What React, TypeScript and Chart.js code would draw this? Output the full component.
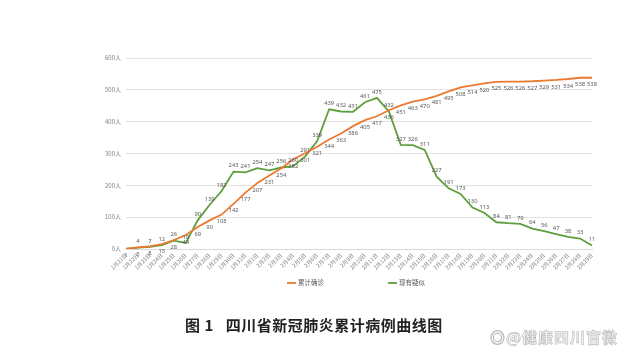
import React, { useEffect, useRef } from "react";
import { Chart, registerables } from "chart.js";

Chart.register(...registerables);

const categories = [
  "1月21日", "1月22日", "1月23日", "1月24日", "1月25日", "1月26日", "1月27日", "1月28日", "1月29日", "1月30日",
  "1月31日", "2月1日", "2月2日", "2月3日", "2月4日", "2月5日", "2月6日", "2月7日", "2月8日", "2月9日",
  "2月10日", "2月11日", "2月12日", "2月13日", "2月14日", "2月15日", "2月16日", "2月17日", "2月18日", "2月19日",
  "2月20日", "2月21日", "2月22日", "2月23日", "2月24日", "2月25日", "2月26日", "2月27日", "2月28日", "2月29日",
];

const confirmed = [
  1, 5, 8, 15, 28, 44, 69, 90, 108, 142,
  177, 207, 231, 254, 282, 301, 321, 344, 363, 386,
  405, 417, 436, 451, 463, 470, 481, 495, 508, 514,
  520, 525, 526, 526, 527, 529, 531, 534, 538, 538,
];

const suspected = [
  0, 4, 7, 12, 26, 19, 90, 139, 182, 243,
  241, 254, 247, 256, 260, 291, 339, 439, 432, 431,
  461, 475, 432, 327, 326, 311, 227, 191, 173, 130,
  113, 84, 81, 79, 64, 56, 47, 38, 33, 11,
];

const seriesNames = ["累计确诊", "现有疑似"];
const yTicks = [0, 100, 200, 300, 400, 500, 600];
const yUnit = "人";

const ORANGE = "#EB7A30";
const GREEN = "#5F9E3C";

const labelPlugin = {
  id: "pointLabels",
  afterDatasetsDraw(chart: any) {
    const ctx = chart.ctx;
    ctx.save();
    ctx.font = "5.8px 'Noto Sans', sans-serif";
    ctx.fillStyle = "#595959";
    ctx.textAlign = "center";
    chart.data.datasets.forEach((ds: any, di: number) => {
      const meta = chart.getDatasetMeta(di);
      const above = di === 1;
      meta.data.forEach((pt: any, i: number) => {
        const v = ds.data[i];
        if (di === 1 && i === 0) return;
        ctx.textBaseline = above ? "bottom" : "top";
        ctx.fillText(String(v), pt.x, pt.y + (above ? -3 : 4));
      });
    });
    ctx.restore();
  },
  afterDraw(chart: any) {
    const ctx = chart.ctx;
    ctx.save();
    const items = [
      { name: seriesNames[0], color: ORANGE, x: 287 },
      { name: seriesNames[1], color: GREEN, x: 388 },
    ];
    const y = 283;
    ctx.font = "6.5px 'Noto Sans CJK SC', sans-serif";
    ctx.textBaseline = "middle";
    ctx.textAlign = "left";
    items.forEach((it) => {
      ctx.strokeStyle = it.color;
      ctx.lineWidth = 1.8;
      ctx.beginPath();
      ctx.moveTo(it.x, y);
      ctx.lineTo(it.x + 9, y);
      ctx.stroke();
      ctx.fillStyle = "#595959";
      ctx.fillText(it.name, it.x + 11, y);
    });
    ctx.restore();
  },
};

export default function App() {
  const canvasRef = useRef<HTMLCanvasElement | null>(null);

  useEffect(() => {
    if (!canvasRef.current) return;
    Chart.defaults.font.family = "'Noto Sans CJK SC', 'Noto Sans', sans-serif";
    const chart = new Chart(canvasRef.current, {
      type: "line",
      data: {
        labels: categories,
        datasets: [
          {
            label: seriesNames[0],
            data: confirmed,
            borderColor: ORANGE,
            backgroundColor: ORANGE,
            borderWidth: 1.8,
            pointRadius: 0,
            tension: 0,
          },
          {
            label: seriesNames[1],
            data: suspected,
            borderColor: GREEN,
            backgroundColor: GREEN,
            borderWidth: 1.8,
            pointRadius: 0,
            tension: 0,
          },
        ],
      },
      options: {
        responsive: false,
        animation: false,
        devicePixelRatio: 1,
        layout: { padding: { left: 0, right: 48, top: 58, bottom: 74 } },
        plugins: {
          legend: { display: false },
          tooltip: { enabled: false },
          title: { display: false },
        },
        scales: {
          x: {
            type: "category",
            offset: false,
            grid: { display: false, drawTicks: false },
            border: { display: true, color: "#d9d9d9" },
            ticks: {
              autoSkip: false,
              maxRotation: 45,
              minRotation: 45,
              font: { size: 5.5 },
              color: "#7f7f7f",
              padding: 3,
            },
            afterFit: (s: any) => {
              s.height = 30;
            },
          },
          y: {
            min: 0,
            max: 600,
            afterBuildTicks: (s: any) => {
              s.ticks = yTicks.map((v) => ({ value: v }));
            },
            ticks: {
              callback: (v: any) => v + yUnit,
              font: { size: 6 },
              color: "#7f7f7f",
              padding: 5,
            },
            grid: { color: "#e3e3e3", drawTicks: false },
            border: { display: false },
            afterFit: (s: any) => {
              s.width = 126;
            },
          },
        },
      },
      plugins: [labelPlugin],
    });
    return () => chart.destroy();
  }, []);

  return (
    <div style={{ position: "absolute", left: 0, top: 0, width: 640, height: 353, background: "#fff", overflow: "hidden" }}>
      <canvas ref={canvasRef} width={640} height={353} style={{ position: "absolute", left: 0, top: 0 }} />
      <div
        style={{
          position: "absolute",
          left: 185,
          top: 317,
          fontFamily: "'Noto Sans CJK SC', sans-serif",
          fontWeight: 700,
          fontSize: 15,
          lineHeight: "16px",
          color: "#222",
          whiteSpace: "nowrap",
          letterSpacing: "0.5px",
        }}
      >
        图 1<span style={{ display: "inline-block", width: 12 }} />四川省新冠肺炎累计病例曲线图
      </div>
      <div
        style={{
          position: "absolute",
          left: 490,
          top: 328,
          fontFamily: "'Noto Sans CJK SC', sans-serif",
          fontWeight: 700,
          fontSize: 15,
          lineHeight: "17px",
          color: "#f4f4f4",
          whiteSpace: "nowrap",
          WebkitTextStroke: "0.6px #b8b8b8",
          letterSpacing: "1px",
        }}
      >
        ◎@健康四川官微
      </div>
    </div>
  );
}
